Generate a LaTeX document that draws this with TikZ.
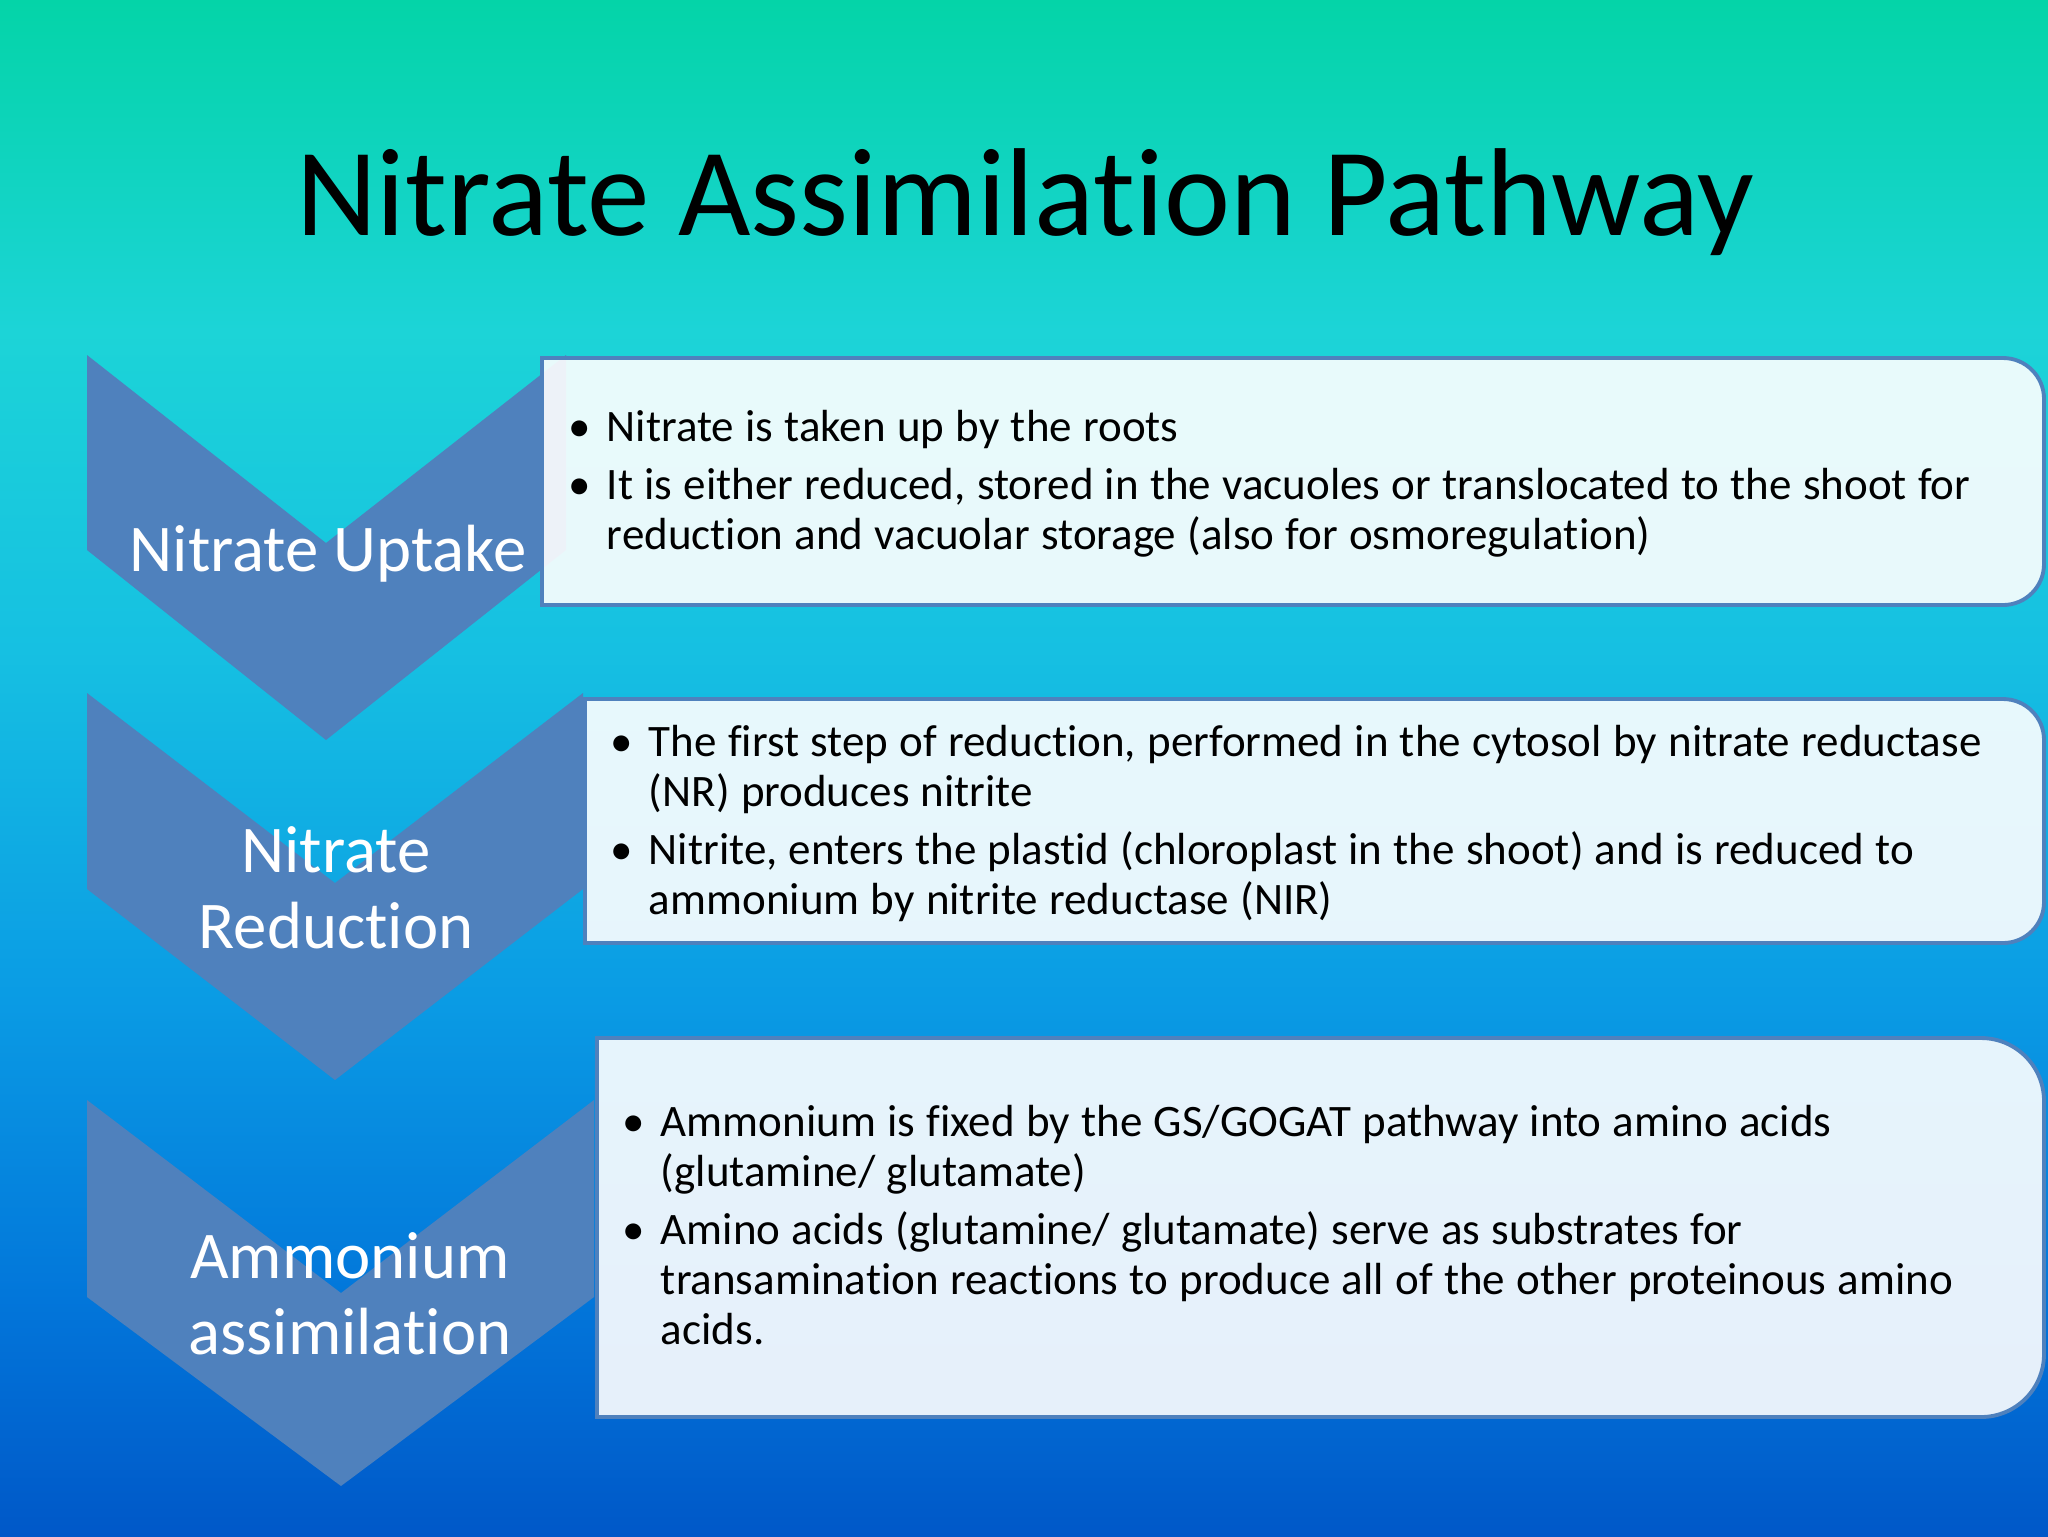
\documentclass[tikz,border=0pt]{standalone}
\usepackage{fontspec}
\setmainfont{Carlito}[Ligatures=NoCommon]
\usepackage{tikz}
\usetikzlibrary{positioning}

\definecolor{chevblue}{RGB}{79,129,189}
\definecolor{bgA}{RGB}{4,212,168}
\definecolor{bgB}{RGB}{28,212,215}
\definecolor{bgC}{RGB}{22,192,226}
\definecolor{bgD}{RGB}{10,155,228}
\definecolor{bgE}{RGB}{2,118,218}
\definecolor{bgF}{RGB}{0,88,200}

\newcommand{\bitem}[1]{\hangindent=0.85em\hangafter=1\noindent\makebox[0.85em][l]{\textbullet}#1\par}
\newcommand{\bgap}{\vspace{2.2pt}}
\newcommand{\bodysetup}{\spaceskip=0.252em plus 0.1em minus 0.05em\relax\raggedright}

\tikzset{
  chevron/.style={fill=chevblue},
  infobox/.style={draw=chevblue, line width=1.1pt, fill=white, fill opacity=0.9},
  steplabel/.style={text=white, font=\fontsize{19}{21.6}\selectfont, align=center, inner sep=0pt, anchor=base},
  bullettext/.style={text width=145mm, inner sep=0pt, anchor=base west, font=\fontsize{12.8}{14.3}\selectfont}
}

\begin{document}
\begin{tikzpicture}[x=0.1mm,y=-0.1mm]
		\useasboundingbox (0,0) rectangle (2048,1536);
		% background
		\foreach \ya/\yb/\ca/\cb in {0/331/bgA/bgB,330/651/bgB/bgC,650/1001/bgC/bgD,1000/1301/bgD/bgE,1300/1536/bgE/bgF}
		{\shade[top color=\ca,bottom color=\cb] (0,\ya) rectangle (2048,\yb);}
		% title
		\node[font=\fontsize{35.6}{40}\selectfont, anchor=base, inner sep=0pt] (title) at (1025,235) {Nitrate Assimilation Pathway};
		% chevrons
		\fill[chevron] (87,355) -- (326,543) -- (566,355) -- (566,550) -- (326,740) -- (87,550) -- cycle;
		\fill[chevron] (87,693) -- (335,883) -- (583,693) -- (583,889) -- (335,1080) -- (87,889) -- cycle;
		\fill[chevron] (87,1100) -- (341,1293) -- (594,1100) -- (594,1297) -- (341,1486) -- (87,1297) -- cycle;
		% boxes
		\draw[infobox] (542,358) -- (2003,358) arc[start angle=270, end angle=360, radius=41] -- (2044,564) arc[start angle=0, end angle=90, radius=41] -- (542,605) -- cycle;
		\draw[infobox] (585,699) -- (2003,699) arc[start angle=270, end angle=360, radius=41] -- (2044,902) arc[start angle=0, end angle=90, radius=41] -- (585,943) -- cycle;
		\draw[infobox] (597,1038) -- (1981,1038) arc[start angle=270, end angle=360, radius=63] -- (2044,1354) arc[start angle=0, end angle=90, radius=63] -- (597,1417) -- cycle;
		% step labels (base = last line)
		\node[steplabel] (uptake) at (328,571) {Nitrate Uptake};
		\node[steplabel] (reduction) at (336,948) {Nitrate\\Reduction};
		\node[steplabel] (ammonium) at (350,1354) {Ammonium\\assimilation};
		% bullet texts
		\node[bullettext] (uptaketext) at (568,441) {\bodysetup
			\bitem{Nitrate is taken up by the roots}\bgap
			\bitem{It is either reduced, stored in the vacuoles or translocated to the shoot for\newline reduction and vacuolar storage (also for osmoregulation)}};
		\node[bullettext] (reductiontext) at (610,756) {\bodysetup
			\bitem{The first step of reduction, performed in the cytosol by nitrate reductase\newline (NR) produces nitrite}\bgap
			\bitem{Nitrite, enters the plastid (chloroplast in the shoot) and is reduced to\newline ammonium by nitrite reductase (NIR)}};
		\node[bullettext] (ammoniumtext) at (622,1136) {\bodysetup
			\bitem{Ammonium is fixed by the GS/GOGAT pathway into amino acids\newline (glutamine/ glutamate)}\bgap
			\bitem{Amino acids (glutamine/ glutamate) serve as substrates for\newline transamination reactions to produce all of the other proteinous amino\newline acids.}};
	\end{tikzpicture}
\end{document}
